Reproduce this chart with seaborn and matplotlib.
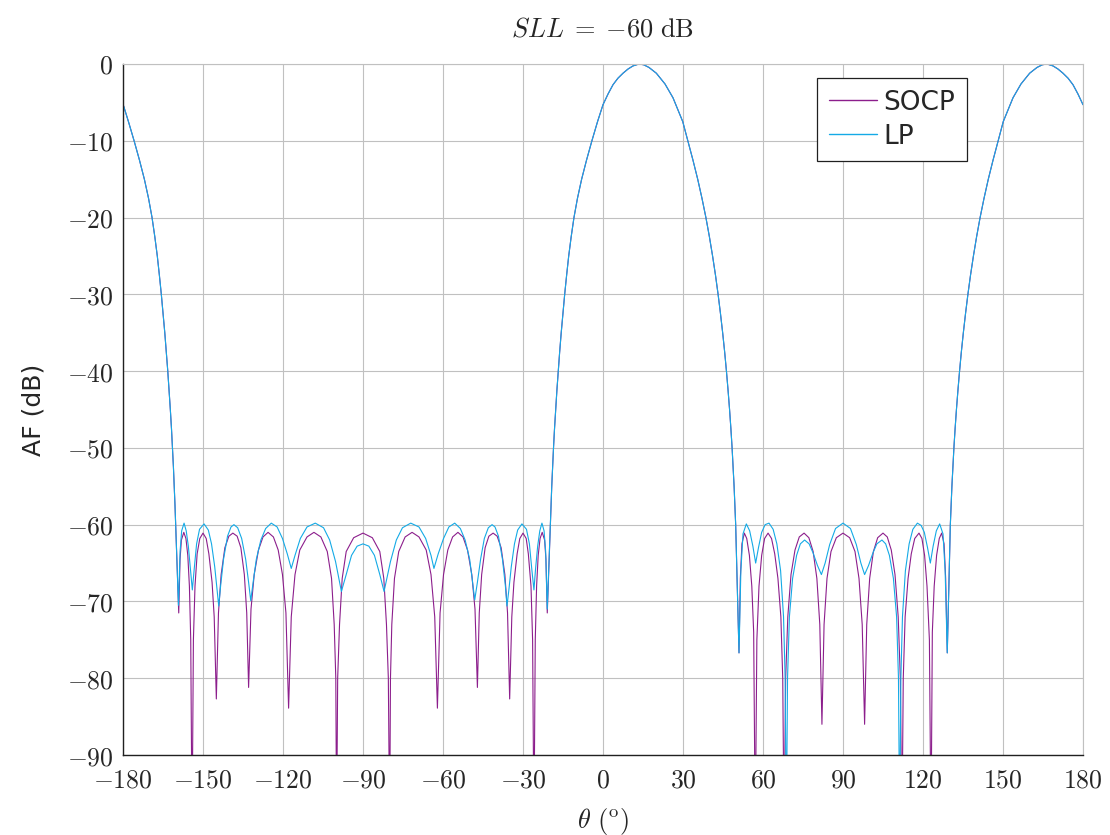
import numpy as np
import pandas as pd
import matplotlib
matplotlib.use("Agg")
import matplotlib.pyplot as plt
import seaborn as sns

# angles (deg) and array factor (dB)
# pieces shared by both curves: main lobes and the wrap-around edge
left_edge_theta = [-180, -179.74, -177.96, -175.84, -173.84, -171.99, -170.42, -169.11, -168.07, -167.14,
                   -166.36, -165.63, -164.96, -164.33, -163.75, -163.21, -162.71, -162.25, -161.82, -161.44,
                   -161.09, -160.78, -160.5, -160.25]
left_edge_db = [-5.3, -5.5, -7.5, -10, -12.5, -15, -17.5, -20, -22.5, -25,
                -27.5, -30, -32.5, -35, -37.5, -40, -42.5, -45, -47.5, -50,
                -52.5, -55, -57.5, -60]

main_lobe_theta = [-19.75, -19.5, -19.22, -18.91, -18.56, -18.18, -17.75, -17.29, -16.79, -16.25,
                   -15.67, -15.04, -14.37, -13.64, -12.86, -11.93, -10.89, -9.58, -8.01, -6.16,
                   -4.16, -2.04, 0, 1.9, 3.75, 5.6, 7.5, 9.4, 11.25, 13.5,
                   15.25, 17.25, 20, 23.25, 26.25, 29.9, 31.8, 33.72, 35.51, 37.12,
                   38.59, 39.9, 41.09, 42.18, 43.16, 44.05, 44.87, 45.62, 46.29, 46.9,
                   47.46, 47.96, 48.41, 48.8, 49.16, 49.47, 49.75]
main_lobe_db = [-60, -57.5, -55, -52.5, -50, -47.5, -45, -42.5, -40, -37.5,
                -35, -32.5, -30, -27.5, -25, -22.5, -20, -17.5, -15, -12.5,
                -10, -7.5, -5.3, -3.9, -2.7, -1.85, -1.2, -0.65, -0.25, 0,
                -0.1, -0.45, -1.2, -2.6, -4.4, -7.5, -10, -12.5, -15, -17.5,
                -20, -22.5, -25, -27.5, -30, -32.5, -35, -37.5, -40, -42.5,
                -45, -47.5, -50, -52.5, -55, -57.5, -60]

right_lobe_theta = [130.25, 130.53, 130.84, 131.2, 131.59, 132.04, 132.54, 133.1, 133.71, 134.38,
                    135.13, 135.95, 136.84, 137.82, 138.91, 140.1, 141.41, 142.88, 144.49, 146.28,
                    148.2, 150.1, 153.75, 156.75, 160, 162.75, 164.75, 166.5, 168.75, 170.6,
                    172.5, 174.4, 176.25, 178.1, 180]
right_lobe_db = [-60, -57.5, -55, -52.5, -50, -47.5, -45, -42.5, -40, -37.5,
                 -35, -32.5, -30, -27.5, -25, -22.5, -20, -17.5, -15, -12.5,
                 -10, -7.5, -4.4, -2.6, -1.2, -0.45, -0.1, 0, -0.25, -0.65,
                 -1.2, -1.85, -2.7, -3.9, -5.3]

# SOCP side lobes
socp_left_theta = [
    -159.1, -158.6, -158.1, -157.2, -156.4, -155.7, -155.1, -154.6, -154.1,
    -153.6, -153, -152.2, -151.2, -150, -148.8, -147.8, -146.6, -145.8, -145,
    -144.2, -143.2, -141.8, -140.3, -138.8, -137.2, -135.8, -134.5, -133.6, -132.9,
    -132, -130.8, -129.2, -127.5, -125.6, -123.6, -121.8, -120.2, -118.9, -117.9,
    -116.9, -115.5, -113.7, -111, -108.4, -105.8, -103.4, -101.8, -100.8, -100.2, -99.9,
    -99.5, -98.8, -97.8, -96.3, -93.5, -90, -86.5, -83.7, -82.2, -81.2, -80.5, -80,
    -79.7, -79.2, -78.2, -76.6, -74.2, -71.6, -69, -66.3, -64.5, -63.1, -62.1,
    -61.1, -59.8, -58.2, -56.4, -54.4, -52.5, -50.8, -49.2, -48, -47.1,
    -46.4, -45.5, -44.2, -42.8, -41.2, -39.7, -38.2, -36.8, -35.8, -35,
    -34.2, -33.4, -32.2, -31.2, -30, -28.8, -28, -27, -26.4, -25.9,
    -25.4, -24.9, -24.3, -23.6, -22.8, -21.9, -21.4, -20.9,
]
socp_left_db = [
    -71.5, -64.5, -62, -61, -61.8, -64, -68, -75, -100,
    -75, -68, -63.8, -61.8, -61.1, -61.8, -63.8, -67.5, -72, -82.7,
    -71.5, -66.5, -63, -61.5, -61.1, -61.5, -63, -66.5, -71.5, -81.2,
    -71, -66.5, -63.3, -61.6, -61, -61.6, -63.3, -66.5, -71.5, -83.9,
    -72, -66.5, -63.3, -61.6, -61, -61.6, -63.5, -67, -73, -80, -100,
    -80, -73, -67, -63.5, -61.7, -61.1, -61.7, -63.5, -67, -73, -80, -100,
    -80, -73, -67, -63.5, -61.6, -61, -61.6, -63.3, -66.5, -72, -83.9,
    -71.5, -66.5, -63.3, -61.6, -61, -61.6, -63.3, -66.5, -71, -81.2,
    -71.5, -66.5, -63, -61.5, -61.1, -61.5, -63, -66.5, -71.5, -82.7,
    -72, -67.5, -63.8, -61.8, -61.1, -61.8, -63.8, -68, -75, -100,
    -75, -68, -64, -61.8, -61, -62, -64.5, -71.5,
]

socp_right_theta = [
    51, 51.5, 52.1, 53, 53.9, 54.9, 55.8, 56.5, 57.1,
    57.7, 58.5, 59.5, 60.6, 61.9, 63.2, 64.4, 65.6, 66.7, 67.4, 67.9,
    68.5, 69.3, 70.5, 72, 73.6, 75.4, 77.2, 78.8, 80.2, 81.3, 82.1,
    82.9, 84, 85.5, 87.5, 90, 92.5, 94.5, 96, 97.2, 98.1,
    98.9, 100, 101.4, 103, 105, 106.6, 108.1, 109.5, 110.7, 111.5, 112.1,
    112.6, 113.3, 114.4, 115.6, 116.9, 118.5, 119.6, 120.6, 121.5, 122.4, 123,
    123.5, 124.2, 125.1, 126.1, 127, 127.9, 128.5, 129.1,
]
socp_right_db = [
    -76.7, -67, -62.5, -61.1, -61.8, -64, -68, -74, -100,
    -75, -68, -64, -61.8, -61.1, -61.8, -63.8, -67, -72, -80, -100,
    -80, -72, -66.5, -63.3, -61.6, -61.1, -61.7, -63.5, -67, -73, -86,
    -73, -67, -63.5, -61.7, -61.1, -61.7, -63.5, -67, -73, -86,
    -73, -67, -63.5, -61.7, -61.1, -61.6, -63.3, -66.5, -72, -80, -100,
    -80, -72, -67, -63.8, -61.8, -61.1, -61.8, -64, -68, -75, -100,
    -74, -68, -64, -61.8, -61.1, -62.5, -67, -76.7,
]

# LP side lobes
lp_left_theta = [
    -159.2, -158.6, -158, -157.1, -156.3, -155.5, -154.7, -154,
    -153.3, -152.4, -151.3, -149.6, -148, -146.8, -145.6, -144.7, -144.1,
    -143.4, -142.3, -140.8, -139.5, -138.4, -137, -135.5, -134, -132.9, -132.1,
    -131.2, -130, -128.3, -126.5, -124.4, -122.2, -120.2, -118.4, -116.9,
    -115.5, -113.5, -111, -107.9, -104.8, -102.5, -100.3, -98.1,
    -96.3, -94.3, -92.2, -90, -87.8, -85.7, -83.7, -82.1,
    -79.7, -77.5, -75.2, -72.1, -69, -66.5, -64.5, -63.4,
    -61.8, -59.8, -57.8, -55.6, -53.5, -51.7, -50, -48.9, -48.1,
    -47.1, -45.9, -44.5, -43, -41.6, -40.5, -39.2, -37.7, -36.6, -36,
    -35.3, -34.4, -33.2, -32, -30.4, -28.7, -27.6, -26.7, -25.9,
    -25.3, -24.5, -23.7, -22.9, -22.1, -21.5, -20.9,
]
lp_left_db = [
    -70.5, -63.5, -60.8, -59.8, -60.8, -62.8, -65.8, -68.5,
    -65.8, -62.5, -60.6, -59.9, -60.7, -62.5, -65.5, -68.5, -70.6,
    -68, -64.5, -61.5, -60.3, -60, -60.4, -61.8, -64.5, -67.5, -69.9,
    -67.5, -64.5, -62, -60.5, -59.8, -60.3, -61.8, -63.8, -65.7,
    -64, -61.8, -60.3, -59.8, -60.4, -62, -64.8, -68.7,
    -66.5, -64, -62.8, -62.5, -62.8, -64, -66.5, -68.7,
    -64.8, -62, -60.4, -59.8, -60.3, -61.8, -64, -65.7,
    -63.8, -61.8, -60.3, -59.8, -60.5, -62, -64.5, -67.5, -69.8,
    -67.5, -64.5, -61.8, -60.4, -60, -60.3, -61.5, -64.5, -68, -70.6,
    -68.5, -65.5, -62.5, -60.7, -59.9, -60.6, -62.5, -65.8, -68.5,
    -65.8, -62.8, -60.8, -59.8, -60.8, -63.5, -71,
]

lp_right_theta = [
    51, 51.7, 52.5, 53.75, 55, 56.2, 57.25,
    58.3, 59.5, 60.8, 62.25, 63.8, 65.2, 66.6, 67.7, 68.3, 68.75,
    69.2, 69.9, 71.1, 72.6, 74, 75.6, 77.3, 78.8, 80.4, 81.9,
    83.3, 85, 87.2, 90, 92.8, 95, 96.7, 98.1,
    99.6, 101.2, 102.7, 104.6, 106, 107.4, 108.9, 110.1, 110.8, 111.25,
    111.7, 112.3, 113.4, 114.8, 116.2, 117.9, 119.3, 120.5, 121.7, 122.75,
    123.8, 125, 126.25, 127.5, 128.3, 129.1,
]
lp_right_db = [
    -76.7, -66, -61.2, -59.9, -60.8, -62.8, -65,
    -63, -61, -60, -59.8, -60.6, -62.5, -66, -72, -80, -100,
    -80, -72, -67, -64, -62.5, -62, -62.5, -63.7, -65.3, -66.5,
    -65, -62.6, -60.5, -59.8, -60.5, -62.6, -65, -66.5,
    -65.3, -63.7, -62.5, -62, -62.5, -64, -67, -72, -80, -100,
    -80, -72, -66, -62.5, -60.6, -59.8, -60.1, -61, -63, -65,
    -62.8, -60.8, -59.9, -61.2, -66, -76.7,
]

x_ticks = list(range(-180, 181, 30))
y_ticks = list(range(-90, 1, 10))

socp_color = "#8c1e8c"
lp_color = "#14aae6"

socp_theta = left_edge_theta + socp_left_theta + main_lobe_theta + socp_right_theta + right_lobe_theta
socp_db = left_edge_db + socp_left_db + main_lobe_db + socp_right_db + right_lobe_db
lp_theta = left_edge_theta + lp_left_theta + main_lobe_theta + lp_right_theta + right_lobe_theta
lp_db = left_edge_db + lp_left_db + main_lobe_db + lp_right_db + right_lobe_db

df = pd.concat([
    pd.DataFrame({"theta": socp_theta, "af": socp_db, "method": "SOCP"}),
    pd.DataFrame({"theta": lp_theta, "af": lp_db, "method": "LP"}),
], ignore_index=True)

sns.set_style("white")
plt.rcParams["mathtext.fontset"] = "cm"
plt.rcParams["font.family"] = ["DejaVu Sans"]

fig = plt.figure(figsize=(11.1, 8.35), dpi=100)
ax = fig.add_axes([123 / 1110, 1 - 755 / 835, 960 / 1110, 691 / 835])

sns.lineplot(data=df, x="theta", y="af", hue="method", sort=False,
             estimator=None, palette={"SOCP": socp_color, "LP": lp_color},
             linewidth=0.8, ax=ax)

ax.set_xlim(-180, 180)
ax.set_ylim(-90, 0)
ax.set_xticks(x_ticks)
ax.set_yticks(y_ticks)
ax.set_xticklabels([f"${v}$" for v in x_ticks], fontsize=18.5)
ax.set_yticklabels([f"${v}$" for v in y_ticks], fontsize=18.5)
ax.tick_params(direction="in", length=5, width=0.8, color="#555555")
ax.tick_params(axis="x", pad=9)
ax.tick_params(axis="y", pad=7)
ax.grid(True, color="#c0c0c0", linewidth=0.8)
ax.set_axisbelow(True)

for side in ["top", "right"]:
    ax.spines[side].set_color("#c0c0c0")
    ax.spines[side].set_linewidth(0.8)
for side in ["left", "bottom"]:
    ax.spines[side].set_color("#202020")
    ax.spines[side].set_linewidth(1.0)

ax.set_title(r"$SLL\;=\;{-60}\ \mathrm{dB}$", fontsize=19, pad=20)
ax.set_xlabel(r"$\theta\ (^{\mathrm{o}})$", fontsize=19, labelpad=9)
ax.set_ylabel("AF (dB)", fontsize=18, labelpad=15)

leg = ax.legend(loc="upper right", bbox_to_anchor=(0.879, 0.98), fontsize=19,
                frameon=True, fancybox=False, framealpha=1, edgecolor="#202020",
                handlelength=1.8, handletextpad=0.25, borderpad=0.45,
                labelspacing=0.3, borderaxespad=0)
leg.get_frame().set_linewidth(0.9)
for line in leg.get_lines():
    line.set_linewidth(1.0)

fig.savefig("out.png", dpi=100)
